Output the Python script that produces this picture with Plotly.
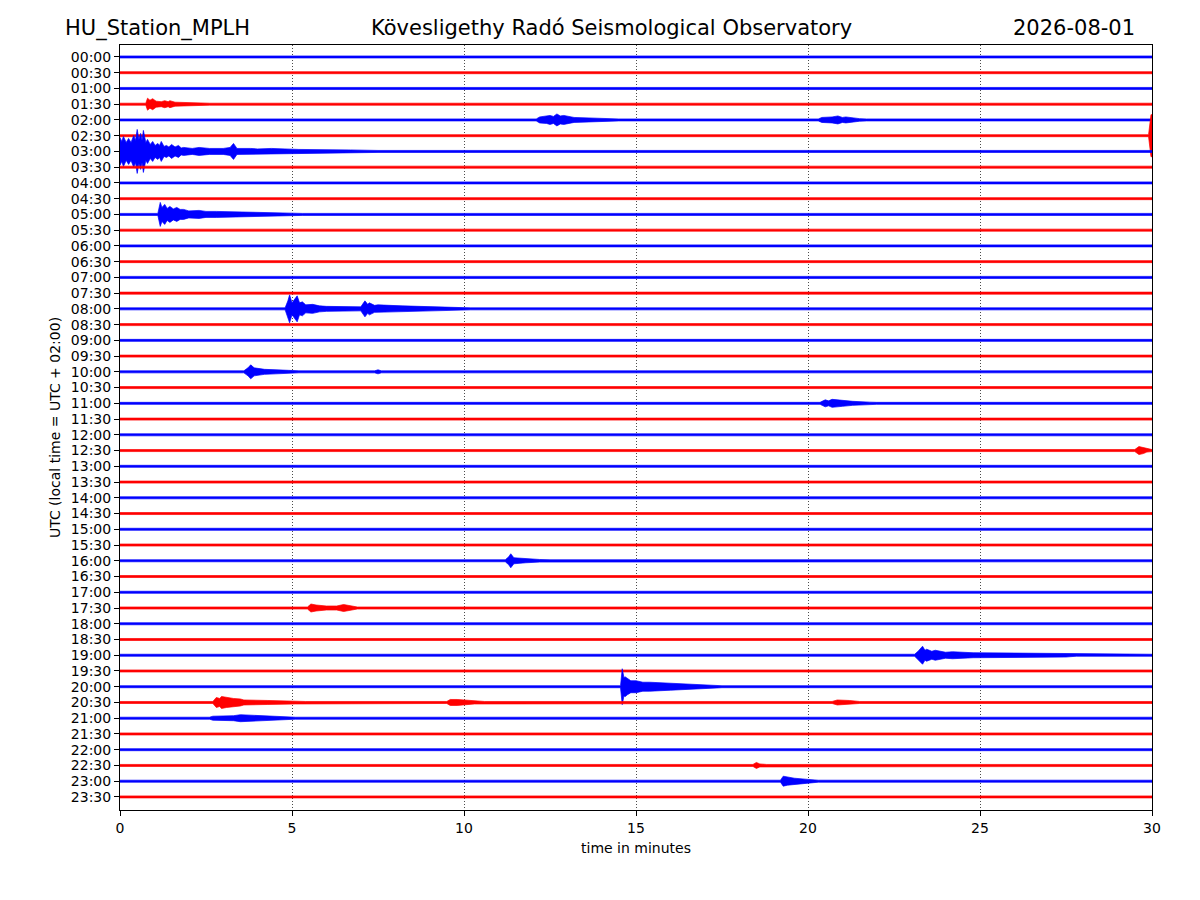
import plotly.graph_objects as go

# helicorder rows, 30 minutes each
row_labels = ["%02d:%02d" % (h, m) for h in range(24) for m in (0, 30)]
row_colors = ["blue" if i % 2 == 0 else "red" for i in range(len(row_labels))]

# background noise half-width (amplitude units, ~pixels at this scale)
noise_amp = 1.0

# event envelopes: row index -> [(minute, half-width)]
events = {
    3: [(0.75, 1), (0.8, 6), (0.87, 4), (0.95, 5.5), (1.05, 3), (1.2, 2.5), (1.3, 3.5),
        (1.4, 2.5), (1.45, 3.5), (1.6, 2), (2.3, 1.5), (2.6, 1)],
    4: [(12.1, 1), (12.2, 3), (12.4, 3.5), (12.5, 4.5), (12.6, 3.5), (12.7, 6),
        (12.8, 4), (12.9, 4.5), (13.2, 2.5), (14.3, 1.3), (14.5, 1),
        (20.3, 1), (20.4, 2.5), (20.7, 3), (20.87, 4), (21.0, 2.5), (21.1, 3),
        (21.5, 1.3), (21.7, 1)],
    5: [(29.9, 1), (29.97, 21), (30, 21)],
    6: [(0, 14), (0.05, 10), (0.1, 15), (0.18, 9), (0.25, 13), (0.32, 9), (0.4, 16),
        (0.45, 11), (0.5, 22), (0.55, 12), (0.6, 18), (0.64, 11), (0.68, 21), (0.75, 9),
        (0.8, 12), (0.88, 7), (0.95, 10), (1.02, 6), (1.1, 8), (1.15, 6), (1.2, 10),
        (1.28, 5), (1.35, 6), (1.42, 4.5), (1.5, 7), (1.6, 4.5), (1.7, 6), (1.78, 3.5),
        (1.85, 4), (2.1, 3), (2.3, 4), (2.6, 3), (3.0, 3), (3.2, 4), (3.3, 8), (3.4, 3),
        (3.8, 3), (4.0, 2.5), (4.4, 3), (5.2, 2), (6.7, 1.5), (7.5, 1)],
    10: [(1.1, 1), (1.17, 12), (1.22, 7), (1.3, 10), (1.37, 6), (1.45, 8), (1.55, 5.5),
         (1.65, 7), (1.75, 5), (1.85, 5), (2.0, 3.5), (2.3, 4), (2.5, 3), (2.8, 3),
         (3.3, 2.5), (4.8, 1.5), (5.3, 1)],
    16: [(4.8, 1), (4.88, 8), (4.93, 14), (5.0, 6), (5.1, 11), (5.15, 13), (5.22, 6),
         (5.3, 7), (5.4, 4), (5.6, 4.5), (5.8, 3), (6.0, 2.5), (7.0, 2), (7.05, 5),
         (7.12, 8), (7.2, 4.5), (7.25, 6), (7.4, 3.5), (7.5, 4), (8.2, 3), (9.2, 2),
         (9.9, 1.3), (10.2, 1)],
    20: [(3.6, 1), (3.72, 4), (3.8, 7), (3.9, 4), (4.2, 2.5), (4.9, 1.5), (5.2, 1),
         (7.4, 1), (7.5, 2), (7.6, 1)],
    22: [(20.35, 1), (20.5, 3.5), (20.6, 2.5), (20.7, 4), (21.0, 3), (21.3, 2),
         (21.8, 1.2), (22, 1)],
    25: [(29.5, 1), (29.62, 4), (29.75, 3), (29.85, 1.5), (30, 1)],
    32: [(11.2, 1), (11.3, 4), (11.36, 7), (11.45, 3), (11.8, 2), (12.2, 1.3), (12.5, 1)],
    35: [(5.45, 1), (5.55, 4), (5.7, 3), (6.0, 2), (6.3, 2), (6.5, 3.5), (6.7, 2), (6.9, 1)],
    38: [(23.1, 1), (23.2, 4), (23.33, 9), (23.4, 5), (23.45, 6), (23.6, 4), (23.7, 5),
         (24.0, 3), (24.2, 3.5), (24.8, 2.5), (26.5, 2), (27.5, 1.8), (27.8, 1)],
    40: [(14.55, 1), (14.6, 18), (14.65, 9), (14.68, 10), (14.75, 8), (14.85, 6),
         (15.0, 6), (15.2, 4.5), (15.4, 4.5), (16.0, 3.5), (16.4, 2.5), (17.1, 1.5),
         (17.5, 1)],
    41: [(2.7, 1), (2.8, 5), (2.9, 4), (2.95, 6), (3.1, 5), (3.3, 4), (3.5, 3.5),
         (3.6, 2.5), (4.3, 2), (5.1, 1.5), (5.4, 1), (9.5, 1), (9.6, 3), (9.8, 3),
         (10.3, 1.5), (10.6, 1), (20.7, 1), (20.85, 2.5), (21.2, 2), (21.5, 1)],
    42: [(2.6, 1), (2.7, 2), (3.3, 2.5), (3.5, 3.5), (3.9, 3), (4.4, 2), (4.9, 1.3), (5.1, 1)],
    45: [(18.4, 1), (18.5, 3), (18.6, 1.5), (18.8, 1)],
    46: [(19.2, 1), (19.28, 5), (19.4, 4), (19.6, 3), (20.0, 1.8), (20.3, 1)],
}

x_ticks = [0, 5, 10, 15, 20, 25, 30]

ROW_PX = 15.74  # amplitude scale: pixels per row spacing
FONT = "DejaVu Sans"

fig = go.Figure()

for i, lab in enumerate(row_labels):
    pts = list(events.get(i, []))
    if not pts or pts[0][0] > 0:
        pts.insert(0, (0, noise_amp))
    if pts[-1][0] < 30:
        pts.append((30, noise_amp))
    ts = [p[0] for p in pts]
    amps = [p[1] / ROW_PX for p in pts]
    xs = ts + ts[::-1]
    ys = [i - a for a in amps] + [i + a for a in amps[::-1]]
    fig.add_trace(go.Scatter(
        x=xs, y=ys, mode="lines", fill="toself",
        line=dict(color=row_colors[i], width=0.7),
        fillcolor=row_colors[i], hoverinfo="skip", showlegend=False,
    ))

fig.update_xaxes(
    range=[0, 30], tickvals=x_ticks, ticks="outside", ticklen=5, tickcolor="black",
    showline=True, linecolor="black", linewidth=1, mirror=True,
    showgrid=True, gridcolor="rgba(0,0,0,0.7)", gridwidth=0.8, griddash="1px,2px",
    zeroline=False,
    title=dict(text="time in minutes", font=dict(size=14, family=FONT, color="black"),
               standoff=8),
    tickfont=dict(size=14, family=FONT, color="black"),
)
fig.update_yaxes(
    range=[47.83, -0.76], tickvals=list(range(len(row_labels))), ticktext=row_labels,
    ticks="outside", ticklen=5, tickcolor="black",
    showline=True, linecolor="black", linewidth=1, mirror=True,
    showgrid=False, zeroline=False,
    title=dict(text="UTC (local time = UTC + 02:00)",
               font=dict(size=14, family=FONT, color="black"), standoff=6),
    tickfont=dict(size=14, family=FONT, color="black"),
)

# page body adds ~8px offset; plot area kept at 120..1152 x 45..810 on screen
OFF = 8
title_font = dict(size=21, family=FONT, color="black")
for txt, px, anchor in [("HU_Station_MPLH", 63, "left"),
                        ("Kövesligethy Radó Seismological Observatory", 611, "center"),
                        ("2026-08-01", 1137, "right")]:
    fig.add_annotation(text=txt, xref="paper", yref="paper",
                       x=(px - 120) / 1032, y=(810 - 28) / 765,
                       xanchor=anchor, yanchor="middle", showarrow=False, font=title_font)

fig.update_layout(
    width=1200 - OFF, height=900 - OFF, plot_bgcolor="white", paper_bgcolor="white",
    margin=dict(l=120 - OFF, r=48, t=45 - OFF, b=90), hovermode=False,
)

fig.write_html("out.html")
